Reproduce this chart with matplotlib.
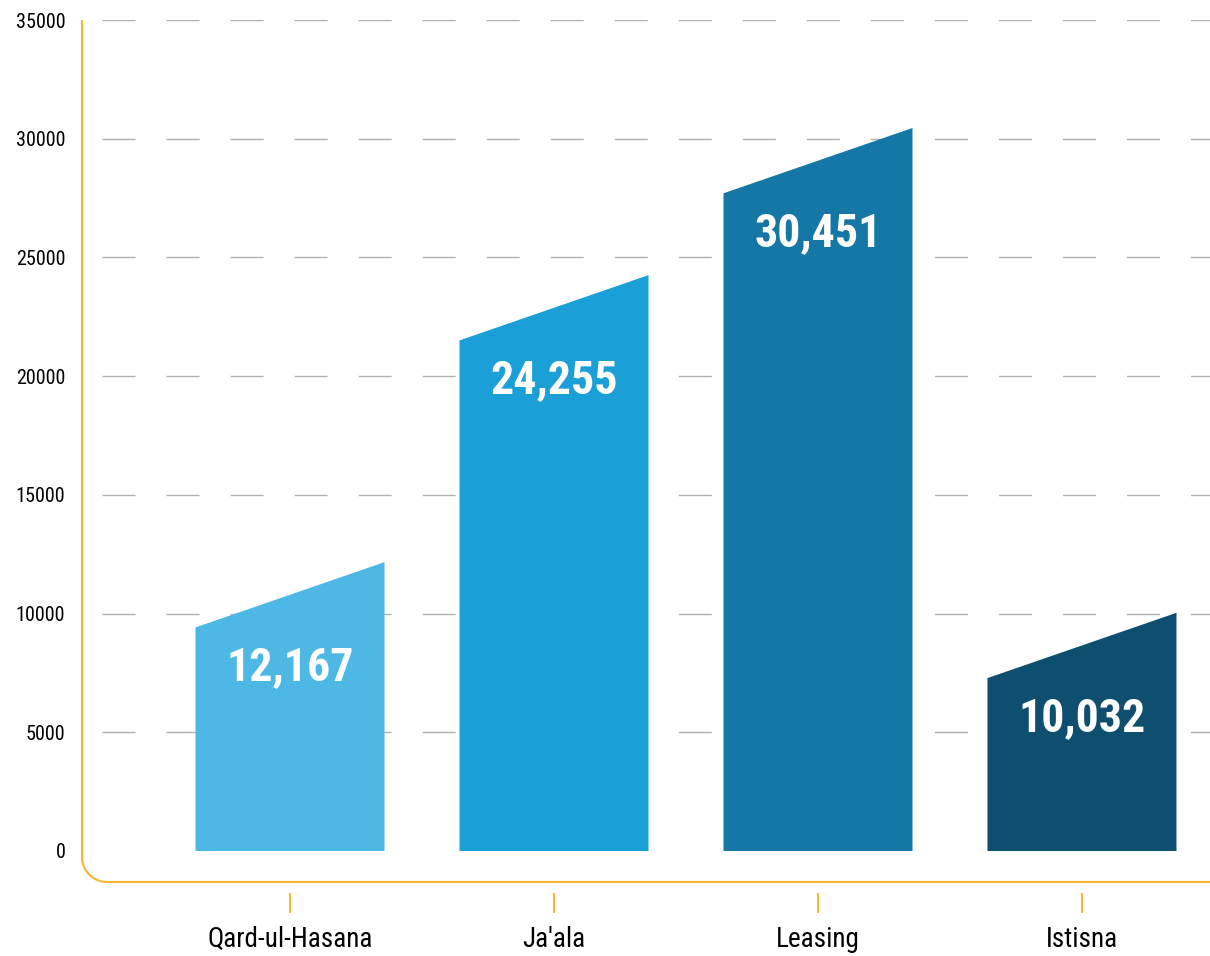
import matplotlib
matplotlib.use("Agg")
import matplotlib.pyplot as plt
import numpy as np
from matplotlib.path import Path
from matplotlib.patches import PathPatch

plt.rcParams['font.family'] = ['Roboto Condensed', 'Roboto', 'DejaVu Sans']

# data
categories = ["Qard-ul-Hasana", "Ja'ala", "Leasing", "Istisna"]
values = [12167, 24255, 30451, 10032]
value_labels = ["12,167", "24,255", "30,451", "10,032"]
colors = ["#4DB8E4", "#1A9FD7", "#1577A5", "#0E4F6F"]
yticks = [0, 5000, 10000, 15000, 20000, 25000, 30000, 35000]

ORANGE = "#F6B830"
bar_w = 0.716
slant = 2750  # left edge of each bar sits lower than the right edge

fig = plt.figure(figsize=(12.1, 9.56), dpi=100)
ax = fig.add_axes([82 / 1210, 74 / 956, 1128 / 1210, 862 / 956])
ax.set_xlim(-0.788, 3.485)
ax.set_ylim(-1306, 35000)

for s in ["top", "right", "left"]:
    ax.spines[s].set_visible(False)
ax.spines["bottom"].set_position(("outward", 8))
ax.spines["bottom"].set_color("none")

# dashed gridlines (none at zero)
for t in yticks[1:]:
    ax.axhline(t, color="#B0B0B0", lw=1.0, zorder=0,
               linestyle=(31.7, (23.8, 22.3)))

# slanted bars
for i, (v, c, lab) in enumerate(zip(values, colors, value_labels)):
    xl, xr = i - bar_w / 2, i + bar_w / 2
    ax.fill([xl, xr, xr, xl], [0, 0, v, v - slant], color=c, lw=0, zorder=2)
    ax.text(i, v - 4420, lab, ha="center", va="center", color="white",
            fontsize=33, fontweight="bold", zorder=3)

ax.set_xticks(range(len(categories)))
ax.set_xticklabels(categories, fontsize=19.5)
ax.set_yticks(yticks)
ax.set_yticklabels([str(t) for t in yticks], fontsize=14.5)
ax.tick_params(axis="y", length=0, pad=12)
ax.tick_params(axis="x", length=14.4, width=1.4, color=ORANGE, pad=9)

# orange frame: left + bottom with rounded corner
r = 25
W, H = 1128.0, 862.0
rx, ry = r / W, r / H
ang = np.linspace(np.pi, 1.5 * np.pi, 20)
arc = np.column_stack([rx + rx * np.cos(ang), ry + ry * np.sin(ang)])
pts = np.vstack([[0, 1], arc, [1, 0]])
frame = PathPatch(Path(pts), fill=False, edgecolor=ORANGE, lw=1.5,
                  transform=ax.transAxes, clip_on=False, zorder=4)
ax.add_patch(frame)

fig.savefig("out.png", dpi=100)
